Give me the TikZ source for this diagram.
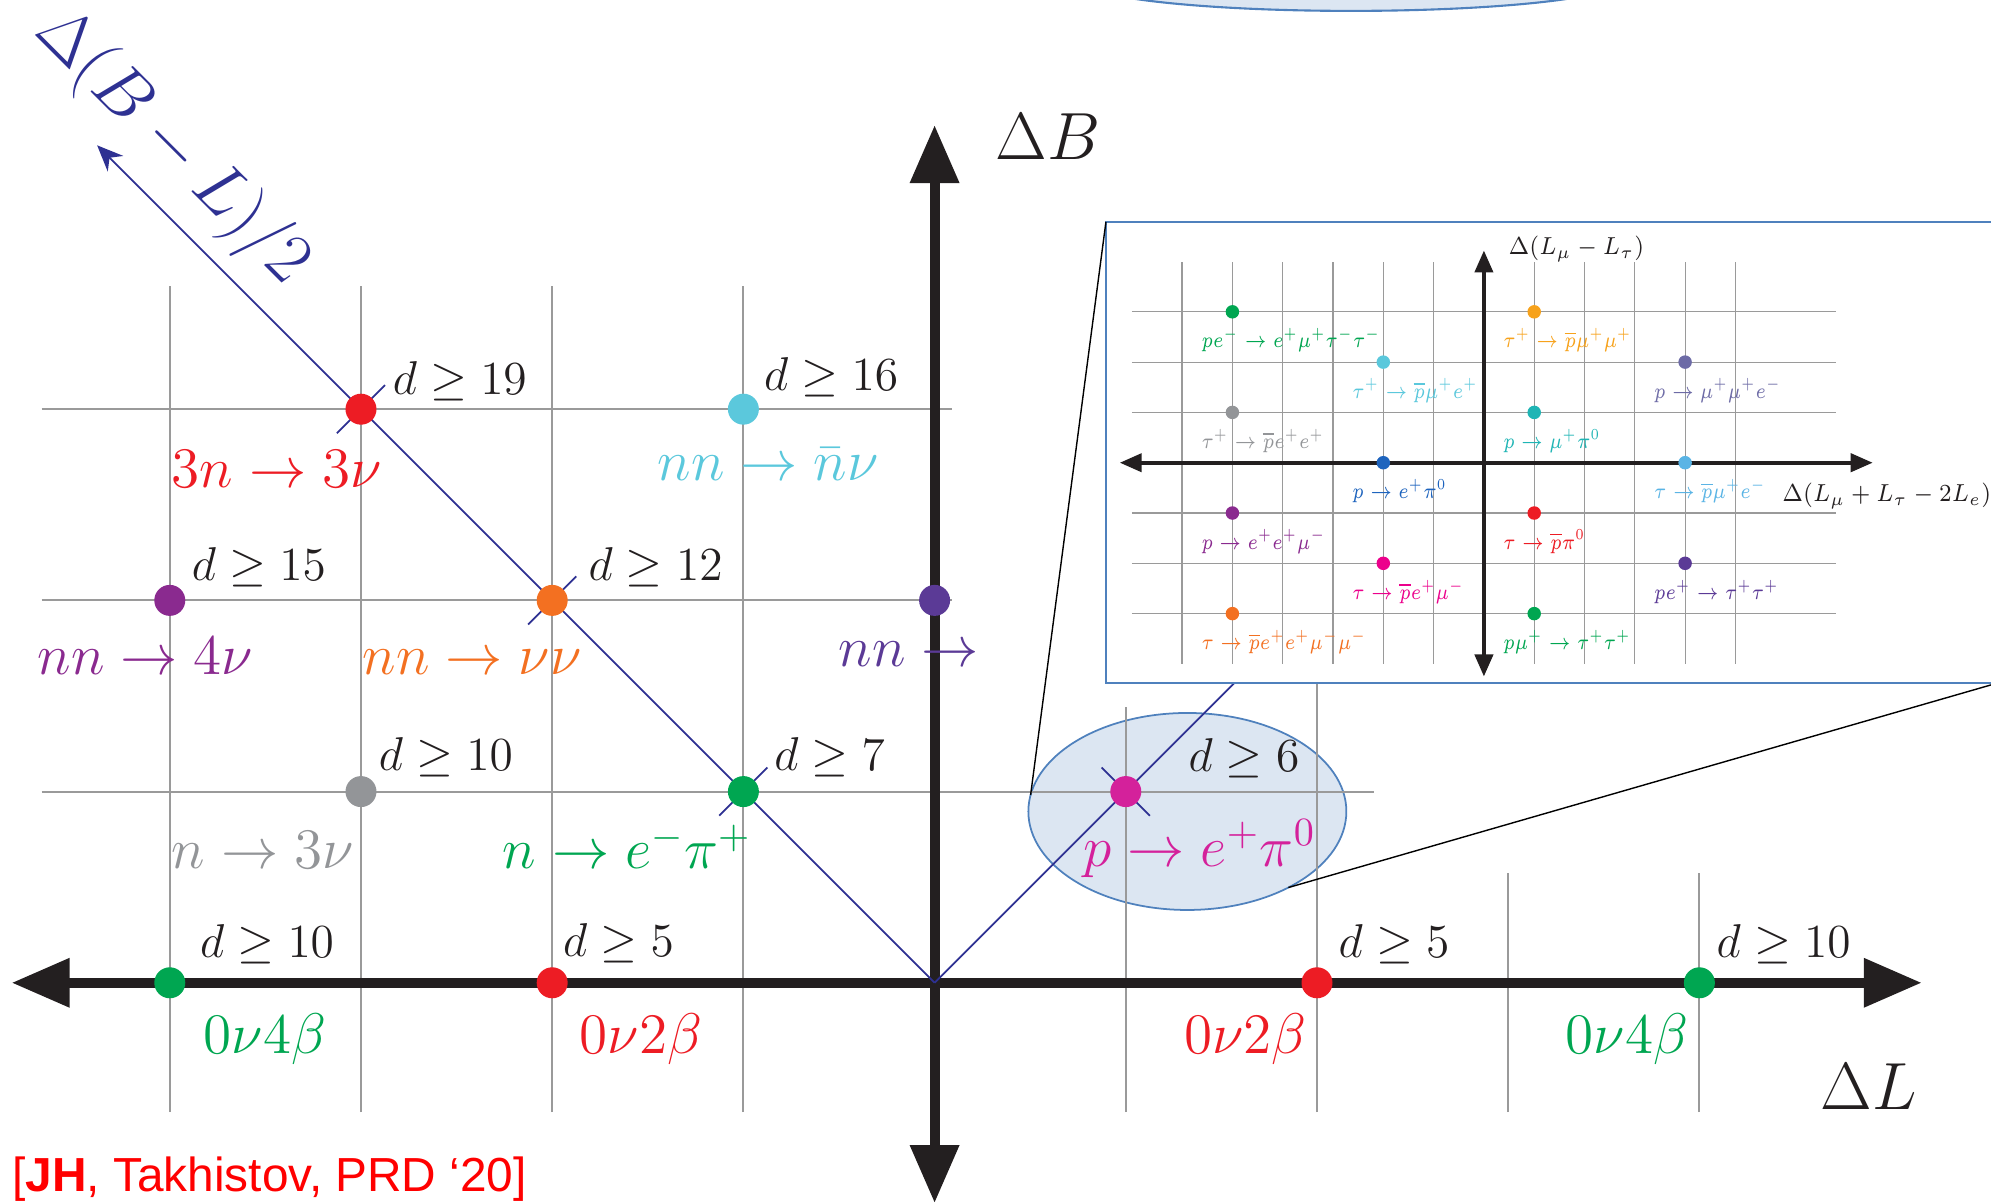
\RequirePackage{fix-cm}
\documentclass[tikz,border=0pt]{standalone}
\usepackage{fontspec}
\newfontfamily\citefont{Liberation Sans}
\usetikzlibrary{arrows.meta,shapes.geometric}
\definecolor{gridGray}{HTML}{9A9A9A}
\definecolor{axisBlack}{HTML}{231F20}
\definecolor{diagNavy}{HTML}{2E3192}
\definecolor{ellFill}{HTML}{DCE6F2}
\definecolor{ellLine}{HTML}{4F81BD}
\definecolor{mRed}{HTML}{ED1C24}
\definecolor{mCyan}{HTML}{5BC8DC}
\definecolor{mPurple}{HTML}{8A2A8F}
\definecolor{mOrange}{HTML}{F37021}
\definecolor{mIndigo}{HTML}{5B3A96}
\definecolor{mGray}{HTML}{939598}
\definecolor{mGreen}{HTML}{00A651}
\definecolor{mMagenta}{HTML}{D4219B}
\definecolor{iOrange}{HTML}{F7A21B}
\definecolor{iSlate}{HTML}{6D6BA6}
\definecolor{iTeal}{HTML}{1FB5B5}
\definecolor{iBlue}{HTML}{1E64BE}
\definecolor{iLightBlue}{HTML}{5AB4E5}
\definecolor{iMagenta}{HTML}{EC008C}

\begin{document}
\begin{tikzpicture}[x=1.912cm, y=1.912cm,
  gridline/.style={draw=gridGray, line width=0.6pt},
  mainaxis/.style={draw=axisBlack, line width=2.85pt, {Triangle[length=5.8mm, width=4.7mm]}-{Triangle[length=5.8mm, width=4.7mm]}},
  diag/.style={draw=diagNavy, line width=0.5pt},
  evdot/.style={circle, inner sep=0pt, outer sep=0pt, minimum size=3.1mm, fill=#1},
  dlab/.style={anchor=base west, inner sep=0pt, text=axisBlack, font=\fontsize{13.5}{16}\selectfont},
  proc/.style={anchor=base west, inner sep=0pt, text=#1, font=\fontsize{16.3}{19}\selectfont},
  axlab/.style={anchor=base west, inner sep=0pt, text=axisBlack, font=\fontsize{19}{23}\selectfont},
  smgrid/.style={draw=gridGray, line width=0.35pt},
  smaxis/.style={draw=axisBlack, line width=1.15pt, {Triangle[length=2.2mm, width=1.8mm]}-{Triangle[length=2.2mm, width=1.8mm]}},
  smdot/.style={circle, inner sep=0pt, outer sep=0pt, minimum size=1.35mm, fill=#1},
  smlab/.style={anchor=base west, inner sep=0pt, text=#1, font=\fontsize{6.2}{8}\selectfont},
  smaxlab/.style={anchor=base west, inner sep=0pt, text=axisBlack, font=\fontsize{7}{9}\selectfont},
  zoomline/.style={draw=black, line width=0.4pt}
]
  \useasboundingbox (-9.346cm,-2.212cm) rectangle (10.564cm,9.828cm);
  \clip (-9.346cm,-2.212cm) rectangle (10.564cm,9.828cm);

  % highlighted regions
  \node[ellipse, draw=ellLine, fill=ellFill, line width=0.6pt, inner sep=0pt, minimum width=5.4cm, minimum height=0.6cm] (topell) at (2.178,5.240) {};
  \node[ellipse, draw=ellLine, fill=ellFill, line width=0.5pt, inner sep=0pt, outer sep=0pt, minimum width=3.18cm, minimum height=1.97cm] (zoom) at (1.322,0.896) {};

  % grid
  \foreach \x in {-4,...,-1}
    \draw[gridline] (\x,-0.676) -- (\x,3.646);
  \draw[gridline] (1,-0.676) -- (1,1.44);
  \draw[gridline] (2,-0.676) -- (2,3.0);
  \foreach \x in {3,4}
    \draw[gridline] (\x,-0.676) -- (\x,0.575);
  \foreach \y in {2,3}
    \draw[gridline] (-4.67,\y) -- (0.09,\y);
  \draw[gridline] (-4.67,1) -- (2.30,1);

  % axes
  \draw[mainaxis] (-4.827,0) -- (5.163,0);
  \draw[mainaxis] (0,-1.152) -- (0,4.486);

  % B-L lines
  \draw[diag, -{Stealth[length=2.6mm, width=2.2mm]}] (0,0) -- (-4.38,4.38);
  \draw[diag] (0,0) -- (2,2);
  \draw[diag] (-3.126,2.874) -- (-2.874,3.126);
  \draw[diag] (-2.126,1.874) -- (-1.874,2.126);
  \draw[diag] (-1.126,0.874) -- (-0.874,1.126);
  \draw[diag] (0.874,1.126) -- (1.126,0.874);

  % operators
  \node[evdot=mRed] (threeN) at (-3,3) {};
  \node[evdot=mCyan] (nnBar) at (-1,3) {};
  \node[evdot=mPurple] (nnFour) at (-4,2) {};
  \node[evdot=mOrange] (nnTwo) at (-2,2) {};
  \node[evdot=mIndigo] (nnAxis) at (0,2) {};
  \node[evdot=mGray] (nThree) at (-3,1) {};
  \node[evdot=mGreen] (nPi) at (-1,1) {};
  \node[evdot=mMagenta] (pPi) at (1,1) {};
  \node[evdot=mGreen] (betaFourL) at (-4,0) {};
  \node[evdot=mRed] (betaTwoL) at (-2,0) {};
  \node[evdot=mRed] (betaTwoR) at (2,0) {};
  \node[evdot=mGreen] (betaFourR) at (4,0) {};

  \node[dlab] (dNineteen) at (-2.837,3.076) {$d\geq19$};
  \node[dlab] (dSixteen) at (-0.895,3.098) {$d\geq16$};
  \node[dlab] (dFifteen) at (-3.888,2.105) {$d\geq15$};
  \node[dlab] (dTwelve) at (-1.813,2.105) {$d\geq12$};
  \node[dlab] (dTenA) at (-2.91,1.109) {$d\geq10$};
  \node[dlab] (dSeven) at (-0.842,1.109) {$d\geq7$};
  \node[dlab] (dSix) at (1.325,1.104) {$d\geq6$};
  \node[dlab] (dTenB) at (-3.845,0.131) {$d\geq10$};
  \node[dlab] (dFiveA) at (-1.946,0.14) {$d\geq5$};
  \node[dlab] (dFiveB) at (2.11,0.131) {$d\geq5$};
  \node[dlab] (dTenC) at (4.087,0.131) {$d\geq10$};

  \node[proc=mRed] (pThreeN) at (-3.994,2.588) {$3n\to3\nu$};
  \node[proc=mCyan] (pNnBar) at (-1.452,2.626) {$nn\to\bar{n}\nu$};
  \node[proc=mPurple] (pNnFour) at (-4.695,1.613) {$nn\to4\nu$};
  \node[proc=mOrange] (pNnTwo) at (-2.994,1.613) {$nn\to\nu\nu$};
  \node[proc=mIndigo] (pNnAxis) at (-0.504,1.653) {$nn\to$};
  \node[proc=mGray] (pNThree) at (-3.994,0.596) {$n\to3\nu$};
  \node[proc=mGreen] (pNPi) at (-2.263,0.596) {$n\to e^-\pi^+$};
  \node[proc=mMagenta] (pPPi) at (0.776,0.607) {$p\to e^+\pi^0$};
  \node[proc=mGreen] (pBetaFourL) at (-3.826,-0.369) {$0\nu4\beta$};
  \node[proc=mRed] (pBetaTwoL) at (-1.86,-0.369) {$0\nu2\beta$};
  \node[proc=mRed] (pBetaTwoR) at (1.301,-0.369) {$0\nu2\beta$};
  \node[proc=mGreen] (pBetaFourR) at (3.297,-0.369) {$0\nu4\beta$};

  \node[axlab] (dB) at (0.315,4.307) {$\Delta B$};
  \node[axlab] (dL) at (4.631,-0.665) {$\Delta L$};
  \node[rotate=-45, inner sep=0pt, text=diagNavy, font=\fontsize{20}{24}\selectfont] (dBL) at (-3.99,4.37) {$\Delta(B-L)/2$};

  \node[anchor=base west, inner sep=0pt, text=red, font=\citefont\fontsize{13.6}{16}\selectfont] (cite) at (-4.827,-1.093) {[\textbf{JH}, Takhistov, PRD ‘20]};

  % flavour inset
  \coordinate (insetNW) at (0.896,3.979);
  \coordinate (insetSE) at (5.56,1.568);
  \draw[draw=ellLine, fill=white, line width=0.5pt] (insetNW) rectangle (insetSE);
  \draw[zoomline] (zoom.174) -- (insetNW);
  \draw[zoomline] (zoom.-37) -- (insetSE);

  \begin{scope}[shift={(2.873,2.720)}, x=0.503cm, y=0.503cm]
    \foreach \x in {-6,...,-1,1,2,...,5}
      \draw[smgrid] (\x,-4) -- (\x,4);
    \foreach \y in {-3,-2,-1,1,2,3}
      \draw[smgrid] (-7,\y) -- (7,\y);
    \draw[smaxis] (-7.24,0) -- (7.73,0);
    \draw[smaxis] (0,-4.25) -- (0,4.22);

    \foreach \x/\y/\col/\lab [count=\k] in {
        -5/3/mGreen/{pe^-\to e^+\mu^+\tau^-\tau^-},
        1/3/iOrange/{\tau^+\to\overline{p}\mu^+\mu^+},
        -2/2/mCyan/{\tau^+\to\overline{p}\mu^+e^+},
        4/2/iSlate/{p\to\mu^+\mu^+e^-},
        -5/1/mGray/{\tau^+\to\overline{p}e^+e^+},
        1/1/iTeal/{p\to\mu^+\pi^0},
        -2/0/iBlue/{p\to e^+\pi^0},
        4/0/iLightBlue/{\tau\to\overline{p}\mu^+e^-},
        -5/-1/mPurple/{p\to e^+e^+\mu^-},
        1/-1/mRed/{\tau\to\overline{p}\pi^0},
        -2/-2/iMagenta/{\tau\to\overline{p}e^+\mu^-},
        4/-2/mIndigo/{pe^+\to\tau^+\tau^+},
        -5/-3/mOrange/{\tau\to\overline{p}e^+e^+\mu^-\mu^-},
        1/-3/mGreen/{p\mu^+\to\tau^+\tau^+}} {
      \node[smdot=\col] (lv\k) at (\x,\y) {};
      \node[smlab=\col] (lvl\k) at (\x-0.628,\y-0.716) {\scalebox{0.82}[1]{$\lab$}};
    }

    \node[smaxlab] (lmt) at (0.477,4.13) {\scalebox{0.9}[1]{$\Delta(L_\mu-L_\tau)$}};
    \node[smaxlab] (lmte) at (5.92,-0.775) {\scalebox{0.9}[1]{$\Delta(L_\mu+L_\tau-2L_e)$}};
  \end{scope}
\end{tikzpicture}
\end{document}
